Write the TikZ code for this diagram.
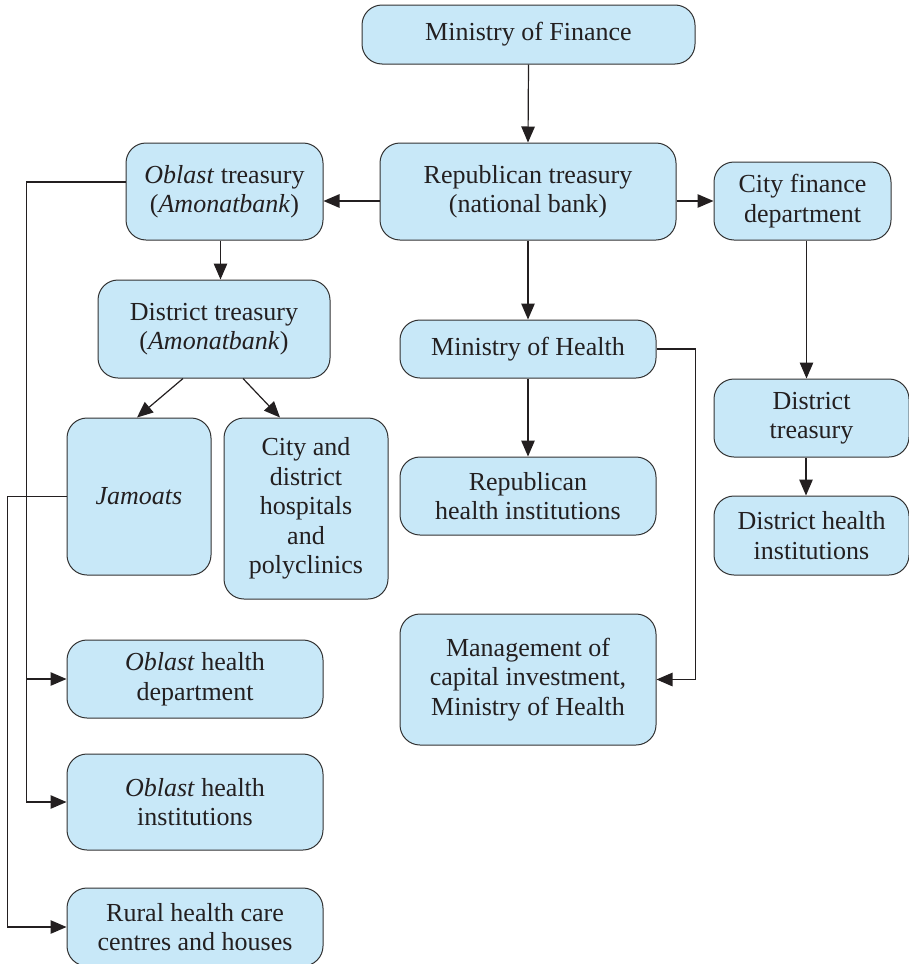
\documentclass[tikz,border=0pt]{standalone}
\usepackage{fontspec}
\setmainfont{Liberation Serif}
\usetikzlibrary{arrows.meta}
\definecolor{boxfill}{RGB}{200,232,248}
\definecolor{boxline}{RGB}{50,50,50}
\definecolor{ink}{RGB}{35,31,32}

\begin{document}
\begin{tikzpicture}[x=1pt,y=-1pt,->,>={Triangle[length=16pt,width=13.5pt]},line width=1.2pt,draw=ink,
    box node/.style={draw=boxline,fill=boxfill,rounded corners=20pt,line width=1pt,align=center,inner sep=0pt,text=ink,font=\fontsize{26}{29.5}\selectfont}]

                \useasboundingbox (0,0) rectangle (909,964);

                \node[box node, minimum width=333pt, minimum height=59pt] (mof) at (528.5,34.5) {Ministry of Finance};
                \node[box node, minimum width=296pt, minimum height=97pt] (rep) at (528,191.5) {Republican treasury\\(national bank)};
                \node[box node, minimum width=197pt, minimum height=97pt] (obl) at (224.5,191.5) {\textit{Oblast} treasury\\(\textit{Amonatbank})};
                \node[box node, minimum width=177pt, minimum height=78pt] (city) at (802.5,201) {City finance\\department};
                \node[box node, minimum width=232pt, minimum height=98pt] (dist) at (214,329) {District treasury\\(\textit{Amonatbank})};
                \node[box node, minimum width=256pt, minimum height=58pt] (moh) at (528,349) {Ministry of Health};
                \node[box node, minimum width=144pt, minimum height=157pt] (jam) at (139,496.5) {\textit{Jamoats}};
                \node[box node, minimum width=164pt, minimum height=181pt] (hosp) at (306,508.5) {City and\\district\\hospitals\\and\\polyclinics};
                \node[box node, minimum width=256pt, minimum height=78pt] (rhi) at (528,496) {Republican\\health institutions};
                \node[box node, minimum width=195pt, minimum height=78pt] (dtr) at (811.5,418) {District\\treasury};
                \node[box node, minimum width=195pt, minimum height=79pt] (dhi) at (811.5,535.5) {District health\\institutions};
                \node[box node, minimum width=256pt, minimum height=131pt] (mgmt) at (528,679.5) {Management of\\capital investment,\\Ministry of Health};
                \node[box node, minimum width=256pt, minimum height=78pt] (ohd) at (195,679) {\textit{Oblast} health\\department};
                \node[box node, minimum width=256pt, minimum height=96pt] (ohi) at (195,802) {\textit{Oblast} health\\institutions};
                \node[box node, minimum width=256pt, minimum height=78pt] (rural) at (195,927) {Rural health care\\centres and houses};

                \draw (mof.south) -- (rep.north);
                \draw (rep.west |- city.west) -- (obl.east |- city.west);
                \draw (rep.east |- city.west) -- (city.west);
                \draw (rep.south) -- (moh.north);
                \draw ([xshift=-4pt]obl.south) -- ([xshift=-4pt]obl.south |- dist.north);
                \draw ([xshift=-31pt]dist.south) -- ([xshift=-2pt]jam.north);
                \draw ([xshift=29pt]dist.south) -- ([xshift=-26pt]hosp.north);
                \draw (moh.south) -- (rhi.north);
                \draw (moh.east) -- ++(39,0) |- (mgmt.east);
                \draw ([xshift=4pt]city.south) -- ([xshift=4pt]city.south |- dtr.north);
                \draw ([xshift=-5.5pt]dtr.south) -- ([xshift=-5.5pt]dtr.south |- dhi.north);

                \draw ([yshift=9.5pt]obl.west) -- ++(-99,0) |- (ohi.west);
                \draw ([xshift=-40pt]ohd.west) -- (ohd.west);
                \draw (jam.west) -- ++(-59,0) |- (rural.west);

            \end{tikzpicture}
\end{document}
